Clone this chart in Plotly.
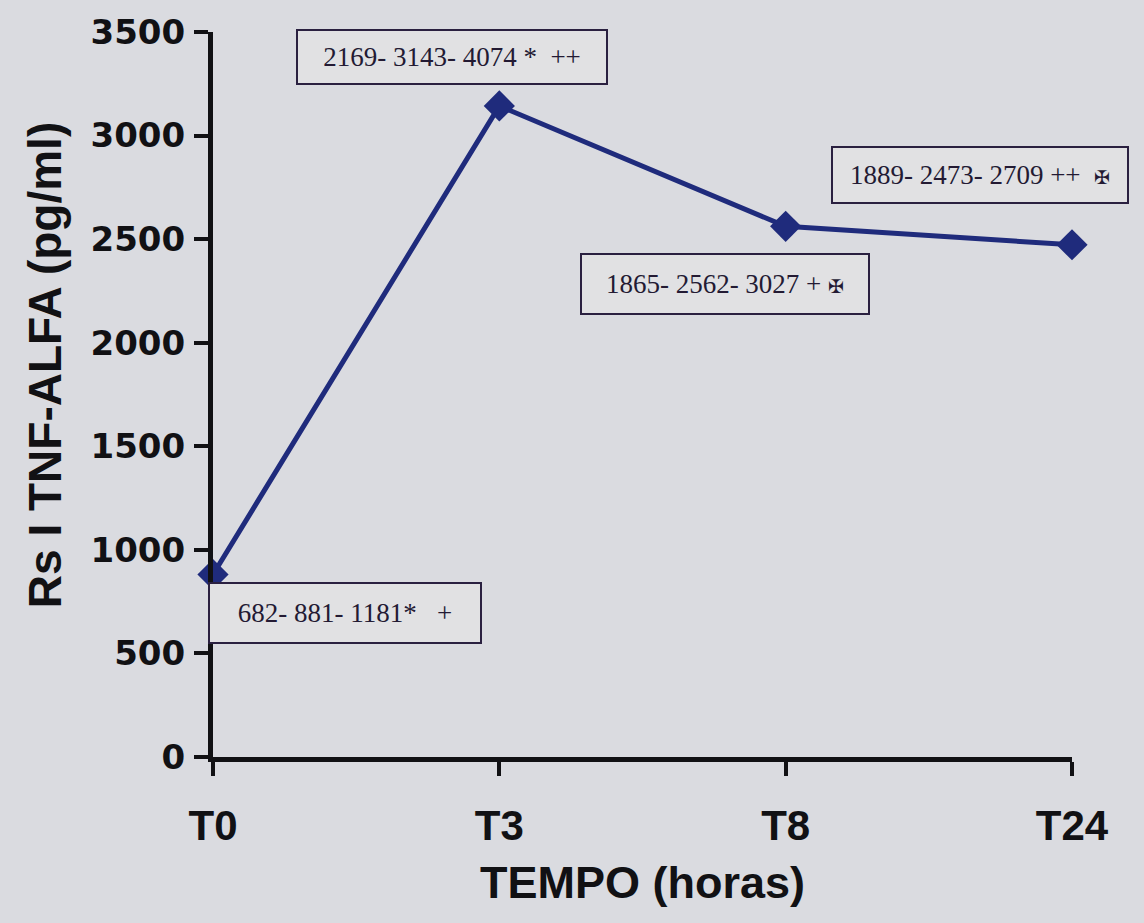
import plotly.graph_objects as go

categories = ["T0", "T3", "T8", "T24"]
medians = [881, 3143, 2562, 2473]
box_labels = [
    "682- 881- 1181*\u00a0\u00a0\u00a0+",
    "2169- 3143- 4074 *\u00a0\u00a0++",
    "1865- 2562- 3027 + <span style='font-size:19px'>✠</span>",
    "1889- 2473- 2709 ++\u00a0\u00a0<span style='font-size:19px'>✠</span>",
]
y_ticks = [0, 500, 1000, 1500, 2000, 2500, 3000, 3500]
y_title = "Rs I TNF-ALFA (pg/ml)"
x_title = "TEMPO (horas)"

BG = "#dadbe0"
LINE = "#1f2b7c"
INK = "#111114"

fig = go.Figure()
fig.add_trace(go.Scatter(
    x=list(range(len(categories))), y=medians,
    mode="lines+markers",
    line=dict(color=LINE, width=5),
    marker=dict(symbol="diamond", size=24, color=LINE),
    cliponaxis=False, showlegend=False,
))

# label boxes, positioned in paper coords (x, y center, width, height in px)
box_pos = [
    (0.154, 0.199, 268, 56),
    (0.278, 0.966, 306, 50),
    (0.596, 0.653, 284, 56),
    (0.893, 0.803, 292, 52),
]
for txt, (bx, by, w, h) in zip(box_labels, box_pos):
    fig.add_annotation(
        xref="paper", yref="paper", x=bx, y=by, text=txt, showarrow=False,
        font=dict(family="Liberation Serif", size=27, color="#231a33"),
        bgcolor="#e1e1e3", bordercolor="#2a2040", borderwidth=2,
        width=w, height=h, xanchor="center", yanchor="middle", align="center",
    )

# y-axis title (placed off-centre like the original)
fig.add_annotation(
    xref="paper", yref="paper", x=-0.196, y=0.54, text="<b>%s</b>" % y_title,
    textangle=-90, showarrow=False, xanchor="center", yanchor="middle",
    font=dict(family="Liberation Sans", size=46, color=INK),
)

fig.update_layout(
    width=1144, height=923,
    paper_bgcolor=BG, plot_bgcolor=BG,
    margin=dict(l=213, r=72, t=30, b=166),
    xaxis=dict(
        range=[0, 3], tickvals=list(range(len(categories))), ticktext=categories,
        showgrid=False, zeroline=False, showline=True, linecolor=INK, linewidth=5,
        ticks="outside", ticklen=14, tickwidth=4, tickcolor=INK,
        tickfont=dict(family="Liberation Sans", size=42, color=INK, weight="bold"),
        ticklabelstandoff=14,
        title=dict(text="<b>%s</b>" % x_title, font=dict(family="Liberation Sans", size=45, color=INK), standoff=20),
    ),
    yaxis=dict(
        range=[0, 3500], tickvals=y_ticks,
        showgrid=False, zeroline=False, showline=True, linecolor=INK, linewidth=5,
        ticks="outside", ticklen=14, tickwidth=4, tickcolor=INK,
        tickfont=dict(family="DejaVu Sans", size=34, color=INK, weight="bold"),
        ticklabelstandoff=2,
    ),
)
fig.write_html(
    "out.html",
    config={"displayModeBar": False},
    post_script="document.body.style.margin='0';document.body.style.background='%s';" % BG,
)
